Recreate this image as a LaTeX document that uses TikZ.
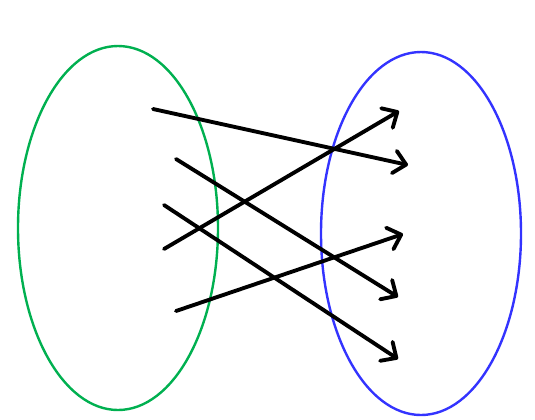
\documentclass[tikz,border=0pt]{standalone}
\usetikzlibrary{arrows.meta}

\begin{document}
\begin{tikzpicture}[
    x=0.75pt, y=-0.75pt,
    setring/.style={line width=1.8pt},
    maparrow/.style={-{Straight Barb[length=9pt, width=17pt, line width=2.9pt, round]}, line width=2.9pt, line cap=round}
]
\useasboundingbox (0,0) rectangle (535,419);

% Domain and codomain
\draw[setring, draw={rgb,255:red,0;green,176;blue,80}] (118,228) ellipse [x radius=100, y radius=182];
\draw[setring, draw={rgb,255:red,51;green,51;blue,255}] (421,233.5) ellipse [x radius=100, y radius=181.5];

% Arrow ends
\coordinate (a1) at (153,109);
\coordinate (a2) at (176,159);
\coordinate (a3) at (164,205);
\coordinate (a4) at (164,249);
\coordinate (a5) at (176,311);
\coordinate (b1) at (399,111);
\coordinate (b2) at (408,165);
\coordinate (b3) at (403,234);
\coordinate (b4) at (398,297);
\coordinate (b5) at (398,359);

% Mapping
\draw[maparrow] (a1) -- (b2);
\draw[maparrow] (a2) -- (b4);
\draw[maparrow] (a3) -- (b5);
\draw[maparrow] (a4) -- (b1);
\draw[maparrow] (a5) -- (b3);

\end{tikzpicture}
\end{document}
